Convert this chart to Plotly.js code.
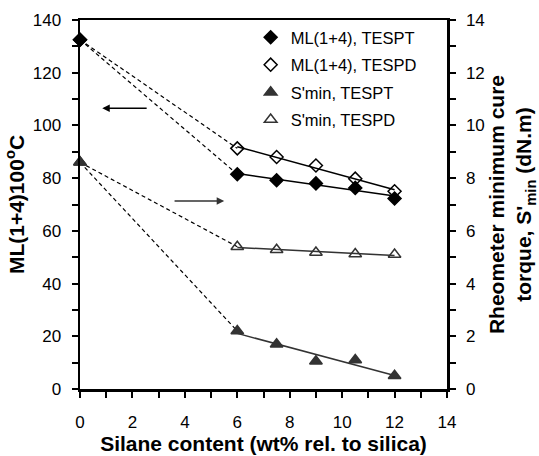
<!DOCTYPE html>
<html>
<head>
<meta charset="utf-8">
<script src="https://cdn.plot.ly/plotly-3.0.1.min.js"></script>
<style>html,body{margin:0;padding:0;background:#fff;}#chart{width:539px;height:456px;}</style>
</head>
<body>
<div id="chart"></div>
<script>
// Silane content (wt% rel. to silica)
const silane = [0, 6, 7.5, 9, 10.5, 12];
// ML(1+4)100°C
const mlTESPT = [132.5, 81.5, 79.2, 78.0, 76.3, 72.3];
const mlTESPD = [132.5, 91.3, 88.0, 84.8, 79.8, 75.0];
// S'min (dN.m)
const sTESPT = [8.6, 2.2, 1.7, 1.05, 1.1, 0.5];
const sTESPD = [8.6, 5.4, 5.28, 5.18, 5.12, 5.1];
const seriesNames = ["ML(1+4), TESPT", "ML(1+4), TESPD", "S'min, TESPT", "S'min, TESPD"];
// arrows pointing to each axis: [xTail, xHead, y]
const arrowLeft = [2.6, 0.85, 106.5];
const arrowRight = [3.55, 5.5, 71.3];

function fit(xs, ys) {
  const n = xs.length;
  let sx = 0, sy = 0, sxx = 0, sxy = 0;
  for (let i = 0; i < n; i++) { sx += xs[i]; sy += ys[i]; sxx += xs[i]*xs[i]; sxy += xs[i]*ys[i]; }
  const b = (n*sxy - sx*sy) / (n*sxx - sx*sx);
  const a = (sy - b*sx) / n;
  const x0 = xs[0], x1 = xs[n-1];
  return {x: [x0, x1], y: [a + b*x0, a + b*x1]};
}

const lineC = '#000';
const grayC = '#333';
const traces = [];
const defs = [
  {y: mlTESPT, axis: 'y', sym: 'diamond', fill: '#000', line: '#000', size: 10, name: seriesNames[0]},
  {y: mlTESPD, axis: 'y', sym: 'diamond-open', fill: '#000', line: '#000', size: 10, name: seriesNames[1]},
  {y: sTESPT, axis: 'y2', sym: 'triangle-up', fill: grayC, line: grayC, size: 11, name: seriesNames[2]},
  {y: sTESPD, axis: 'y2', sym: 'triangle-up-open', fill: grayC, line: grayC, size: 11, name: seriesNames[3]}
];
defs.forEach(d => {
  traces.push({x: silane.slice(0, 2), y: d.y.slice(0, 2), yaxis: d.axis, mode: 'lines',
    line: {color: lineC, width: 1.2, dash: '4px,3px'}, showlegend: false, hoverinfo: 'skip'});
  const f = fit(silane.slice(1), d.y.slice(1));
  traces.push({x: f.x, y: f.y, yaxis: d.axis, mode: 'lines',
    line: {color: d.line, width: 1.5}, showlegend: false, hoverinfo: 'skip'});
});
defs.forEach((d, i) => {
  traces.push({x: silane, y: d.y, yaxis: d.axis, mode: 'markers', name: d.name, legendgroup: 'g' + i,
    marker: {symbol: d.sym, size: d.size, color: d.fill, line: {color: d.line, width: 1.5}},
    cliponaxis: false});
});

const fam = 'Liberation Sans, Arial, sans-serif';
const tickFont = {family: fam, size: 17, color: '#000'};
const titleFont = {family: fam, size: 21, color: '#000', weight: 'bold'};

const layout = {
  width: 539, height: 456,
  margin: {l: 80, r: 92, t: 20, b: 67},
  paper_bgcolor: '#fff', plot_bgcolor: '#fff',
  font: tickFont,
  showlegend: true,
  legend: {x: 0.465, y: 1.0, xanchor: 'left', yanchor: 'top', bgcolor: 'rgba(0,0,0,0)',
    font: {family: fam, size: 16.5, color: '#000'}, itemwidth: 30, tracegroupgap: 3},
  xaxis: {range: [0, 14], dtick: 2, tick0: 0, ticks: 'outside', ticklen: 6, tickwidth: 2, tickcolor: '#000',
    minor: {dtick: 1, ticks: 'outside', ticklen: 6, tickwidth: 2, tickcolor: '#000'},
    showline: true, linewidth: 2.5, linecolor: '#000', mirror: true, showgrid: false, zeroline: false,
    tickfont: tickFont, ticklabelstandoff: 10,
    title: {text: 'Silane content (wt% rel. to silica)', font: titleFont, standoff: 2}},
  yaxis: {range: [0, 140], dtick: 20, tick0: 0, ticks: 'outside', ticklen: 6, tickwidth: 2, tickcolor: '#000',
    minor: {dtick: 10, ticks: 'outside', ticklen: 6, tickwidth: 2, tickcolor: '#000'},
    showline: true, linewidth: 2.5, linecolor: '#000', showgrid: false, zeroline: false,
    tickfont: tickFont, ticklabelstandoff: 7,
    title: {text: 'ML(1+4)100<sup>o</sup>C', font: titleFont, standoff: 3}},
  yaxis2: {range: [0, 14], dtick: 2, tick0: 0, overlaying: 'y', side: 'right', ticks: 'outside', ticklen: 6, tickwidth: 2, tickcolor: '#000',
    minor: {dtick: 1, ticks: 'outside', ticklen: 6, tickwidth: 2, tickcolor: '#000'},
    showline: true, linewidth: 2.5, linecolor: '#000', showgrid: false, zeroline: false,
    tickfont: tickFont, ticklabelstandoff: 7,
    title: {text: "Rheometer minimum cure<br>torque, S'<sub>min</sub> (dN.m)", font: titleFont, standoff: 3}},
  annotations: [
    {x: arrowLeft[1], y: arrowLeft[2], ax: arrowLeft[0], ay: arrowLeft[2], xref: 'x', yref: 'y', axref: 'x', ayref: 'y',
      text: '', showarrow: true, arrowhead: 2, arrowsize: 1, arrowwidth: 1.5, arrowcolor: '#000'},
    {x: arrowRight[1], y: arrowRight[2], ax: arrowRight[0], ay: arrowRight[2], xref: 'x', yref: 'y', axref: 'x', ayref: 'y',
      text: '', showarrow: true, arrowhead: 2, arrowsize: 1, arrowwidth: 1.5, arrowcolor: '#333'}
  ]
};

Plotly.newPlot('chart', traces, layout, {displayModeBar: false, staticPlot: true});
</script>
</body>
</html>
